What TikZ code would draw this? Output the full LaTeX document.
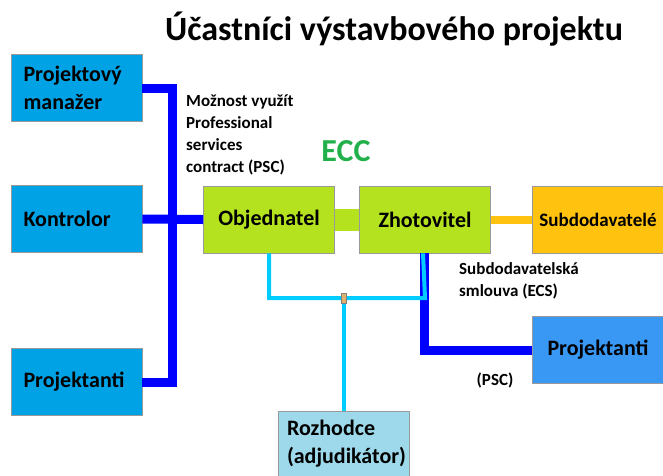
\documentclass[tikz,border=0pt]{standalone}
\usepackage{fontspec}
\setmainfont{Carlito}
\definecolor{boxblue}{HTML}{00A2E6}
\definecolor{boxgreen}{HTML}{B5E21F}
\definecolor{boxorange}{HTML}{FFC20E}
\definecolor{boxblue2}{HTML}{3A98F5}
\definecolor{boxlight}{HTML}{9DD9EA}
\definecolor{darkline}{HTML}{0000FF}
\definecolor{lightline}{HTML}{00CCFF}
\definecolor{ecc}{HTML}{22B04B}
\definecolor{tan}{HTML}{E0B070}
\begin{document}
\begin{tikzpicture}[x=1pt,y=-1pt,
  box/.style={draw=gray!80, line width=0.8pt, minimum width=131pt, minimum height=67pt, inner sep=0pt, font=\bfseries\fontsize{22}{28}\selectfont},
  lbox/.style={box, text width=106pt, align=left},
  dark/.style={draw=darkline, line width=9pt},
  light/.style={draw=lightline, line width=4pt},
  lbl/.style={font=\bfseries\fontsize{17}{22}\selectfont, align=left, inner sep=0pt, anchor=north west}
]
\useasboundingbox (0,0) rectangle (663,475);
\node[font=\bfseries\fontsize{34}{36}\selectfont] (title) at (394,29) {Účastníci výstavbového projektu};

\node[lbox, fill=boxblue] (pm) at (76.5,88) {Projektový\\manažer};
\node[lbox, fill=boxblue] (ko) at (76.5,219) {Kontrolor};
\node[lbox, fill=boxblue] (pl) at (76.5,382) {Projektanti};
\node[box, fill=boxgreen] (obj) at (269,219.5) {Objednatel};
\node[box, fill=boxgreen] (zh) at (425,219.5) {Zhotovitel};
\node[box, fill=boxorange, font=\bfseries\fontsize{19}{21}\selectfont] (sub) at (598,219.5) {Subdodavatelé};
\node[box, fill=boxblue2] (pr) at (598,350) {Projektanti};
\node[box, fill=boxlight, text width=114pt, align=left, minimum height=66pt] (roz) at (344,444) {Rozhodce\\(adjudikátor)};

\coordinate (bar) at (172,0);
\coordinate (hl) at (0,298);
\draw[dark] (pm.east) -- (pm.east -| bar) -- (pl.east -| bar) -- (pl.east);
\draw[dark] (ko.east) -- (obj.west);
\draw[boxgreen, line width=22pt] (obj.east) -- (zh.west);
\draw[boxorange, line width=8pt] (zh.east) -- (sub.west);
\draw[dark] ([xshift=-1pt]zh.south) |- (pr.west);
\draw[light] (obj.south) |- (hl -| zh.south) -- ([xshift=-2pt]zh.south);
\draw[light] (roz.north) -- (roz.north |- hl);
\node[draw=gray, line width=0.5pt, fill=tan, minimum width=5pt, minimum height=10pt, inner sep=0pt] (knot) at (344,298) {};

\node[lbl] (psc) at (186,95) {Možnost využít\\Professional\\services\\contract (PSC)};
\node[font=\bfseries\fontsize{32}{34}\selectfont, text=ecc] (ecclbl) at (346,151) {ECC};
\node[lbl] (ecs) at (459,262) {Subdodavatelská\\smlouva (ECS)};
\node[font=\bfseries\fontsize{17}{18}\selectfont, inner sep=0pt] (psc2) at (495,380) {(PSC)};
\end{tikzpicture}
\end{document}
